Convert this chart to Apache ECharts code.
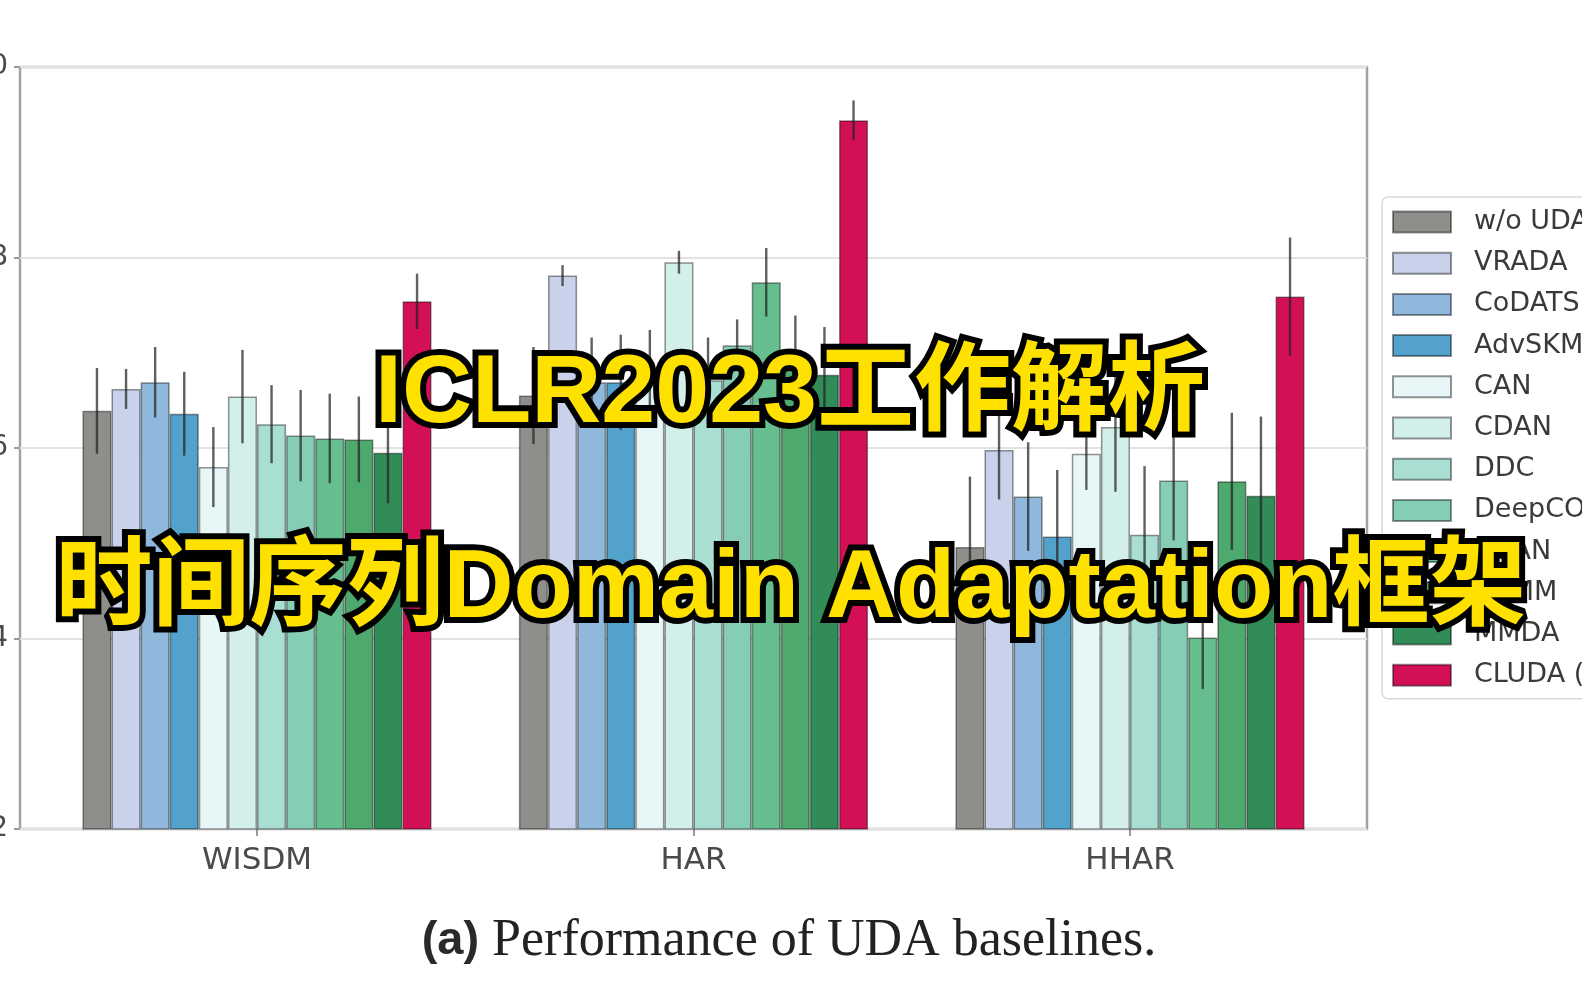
<!DOCTYPE html>
<html><head><meta charset="utf-8">
<script src="https://cdn.jsdelivr.net/npm/echarts@6/dist/echarts.min.js"></script>
<style>html,body{margin:0;padding:0;background:#fff}#c{width:1582px;height:989px}</style>
</head><body><div id="c"></div>
<script>
// ---- data ----
const categories = ['WISDM', 'HAR', 'HHAR'];
const methods = ['w/o UDA', 'VRADA', 'CoDATS', 'AdvSKM', 'CAN', 'CDAN', 'DDC', 'DeepCORAL', 'DSAN', 'HoMM', 'MMDA', 'CLUDA (ours)'];
// mean accuracy per method (order as in methods)
const accWISDM = [0.639, 0.662, 0.669, 0.636, 0.580, 0.654, 0.625, 0.613, 0.610, 0.609, 0.595, 0.754];
const accHAR   = [0.655, 0.781, 0.669, 0.669, 0.674, 0.795, 0.671, 0.708, 0.774, 0.691, 0.677, 0.944];
const accHHAR  = [0.496, 0.598, 0.549, 0.507, 0.594, 0.622, 0.509, 0.566, 0.401, 0.565, 0.550, 0.759];
// standard deviation per method
const stdWISDM = [0.045, 0.021, 0.037, 0.044, 0.042, 0.049, 0.041, 0.048, 0.047, 0.045, 0.053, 0.029];
const stdHAR   = [0.051, 0.011, 0.047, 0.050, 0.050, 0.012, 0.045, 0.027, 0.036, 0.048, 0.050, 0.021];
const stdHHAR  = [0.074, 0.052, 0.057, 0.070, 0.038, 0.068, 0.072, 0.063, 0.054, 0.072, 0.083, 0.062];
const yTicks = [0.2, 0.4, 0.6, 0.8, 1.0];

// ---- style ----
const colors = ['#8e8f8b', '#c9d2ea', '#8fb8dc', '#52a2cc', '#e7f6f6', '#d3efea', '#a9dfd2', '#86cdb5', '#66be8f', '#4ea96e', '#318c58', '#d30f56'];

const accs = [accWISDM, accHAR, accHHAR];
const stds = [stdWISDM, stdHAR, stdHHAR];
const nM = methods.length;
const catGapPct = 20;

const barSeries = methods.map((m, i) => ({
  type: 'bar', name: m, xAxisIndex: 1, yAxisIndex: 1,
  data: accs.map(a => a[i]),
  barGap: '0%', barCategoryGap: catGapPct + '%',
  itemStyle: { color: colors[i], borderColor: 'rgba(0,0,0,0.42)', borderWidth: 1.5 },
  emphasis: { disabled: true },
  animation: false
}));

const errData = [];
accs.forEach((a, c) => a.forEach((v, i) => errData.push([c, i, v, stds[c][i]])));

const errSeries = {
  type: 'custom', xAxisIndex: 1, yAxisIndex: 1, z: 5,
  encode: { x: 0, y: 2 },
  data: errData,
  renderItem: (params, api) => {
    const c = api.value(0), i = api.value(1), v = api.value(2), s = api.value(3);
    const band = api.size([1, 0])[0];
    const bw = band * (1 - catGapPct / 100) / nM;
    const base = api.coord([c, v]);
    const x = base[0] + (i - (nM - 1) / 2) * bw;
    const top = api.coord([c, v + s])[1];
    const bot = api.coord([c, v - s])[1];
    return { type: 'line', shape: { x1: x, y1: top, x2: x, y2: bot },
      style: { stroke: 'rgba(35,35,35,0.72)', lineWidth: 2.4 } };
  },
  animation: false, silent: true
};

const chart = echarts.init(document.getElementById('c'), null, { renderer: 'canvas' });
chart.setOption({
  backgroundColor: '#ffffff',
  animation: false,
  grid: [
    { left: 20, right: 215, top: 67, bottom: 160, containLabel: false, outerBoundsMode: 'none',
      show: true, borderColor: '#a2a2a2', borderWidth: 2.5, backgroundColor: 'transparent' },
    { left: 38.75, right: 233.75, top: 67, bottom: 160, containLabel: false, outerBoundsMode: 'none' }
  ],
  xAxis: [
    { type: 'value', gridIndex: 0, show: false, min: 0, max: 1 },
    { type: 'category', gridIndex: 1, data: categories,
      axisLine: { show: false },
      axisTick: { show: true, alignWithLabel: true, length: 7, lineStyle: { color: '#9a9a9a', width: 2 } },
      axisLabel: { margin: 16, fontFamily: 'DejaVu Sans', fontSize: 31, color: '#4a4a4a' } }
  ],
  yAxis: [
    { type: 'value', gridIndex: 0, min: yTicks[0], max: yTicks[yTicks.length - 1], interval: 0.2,
      axisLine: { show: false },
      axisTick: { show: true, length: 6, lineStyle: { color: '#9a9a9a', width: 2 } },
      axisLabel: { margin: 12, fontFamily: 'DejaVu Sans', fontSize: 28, color: '#4a4a4a', formatter: v => v.toFixed(1) },
      splitLine: { show: true, lineStyle: { color: '#e2e2e2', width: 2 } } },
    { type: 'value', gridIndex: 1, min: yTicks[0], max: yTicks[yTicks.length - 1], interval: 0.2, show: false, splitLine: { show: false } }
  ],
  legend: {
    data: methods, orient: 'vertical', left: 1382, top: 197,
    itemWidth: 58, itemHeight: 21, itemGap: 14.2, icon: 'rect',
    selectedMode: false,
    backgroundColor: '#ffffff',
    borderColor: '#d8d8d8', borderWidth: 1.5, borderRadius: 6,
    padding: [11.5, 30, 10, 10],
    textStyle: { fontFamily: 'DejaVu Sans', fontSize: 27, color: '#3a3a3a', padding: [0, 0, 0, 18] }
  },
  series: [...barSeries, errSeries],
  graphic: [
    { type: 'text', z: 100, x: 790, y: 395,
      style: { text: 'ICLR2023工作解析', fill: '#ffe100', stroke: '#000', lineWidth: 12,
        font: 'bold 97px "Liberation Sans", "Noto Sans CJK SC"', textAlign: 'center', textVerticalAlign: 'middle' } },
    { type: 'text', z: 100, x: 791, y: 590,
      style: { text: '时间序列Domain Adaptation框架', fill: '#ffe100', stroke: '#000', lineWidth: 12,
        font: 'bold 97px "Liberation Sans", "Noto Sans CJK SC"', textAlign: 'center', textVerticalAlign: 'middle' } },
    { type: 'text', z: 100, x: 789, y: 941,
      style: { text: '{a|(a)}{b| Performance of UDA baselines.}', textAlign: 'center', textVerticalAlign: 'middle',
        rich: {
          a: { font: 'bold 47px "Liberation Sans"', fill: '#2a2a2a' },
          b: { font: '52px "Liberation Serif"', fill: '#222' }
        } } }
  ]
});
</script>
</body></html>
